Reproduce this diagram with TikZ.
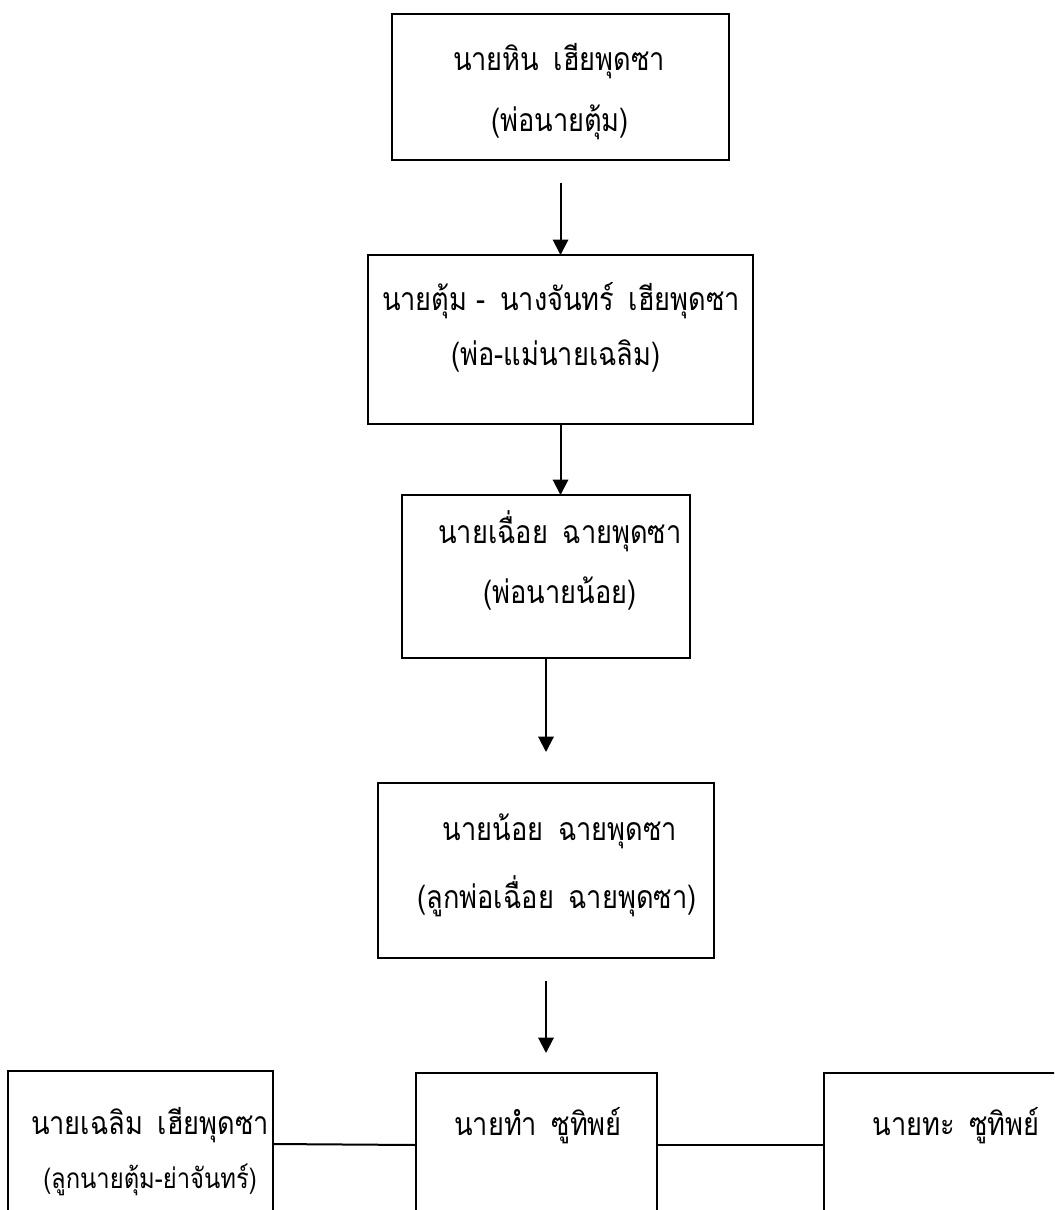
\documentclass[tikz,border=0pt]{standalone}
\usepackage{fontspec}
\newfontfamily\thai[Script=Thai, FakeStretch=0.85]{Loma}
\usetikzlibrary{arrows.meta}
\newcommand\wgap{\hspace{0.45em}}
\begin{document}
\begin{tikzpicture}[x=0.75pt,y=-0.75pt,
  box/.style={draw, line width=1.5pt, inner sep=0pt, outer sep=0pt},
  lbl/.style={anchor=base, inner sep=0pt, font=\thai\fontsize{24}{28}\selectfont},
  small/.style={anchor=base, inner sep=0pt, font=\thai\fontsize{21}{25}\selectfont},
  arr/.style={line width=1.5pt, -{Triangle[length=11.5pt,width=11.5pt]}},
  link/.style={line width=1.5pt}]
\useasboundingbox (0,0) rectangle (1054,1210);
\clip (0,0) rectangle (1054,1210);
\fill[white] (0,0) rectangle (1054,1210);
% boxes
\node[box, minimum width=252.75pt, minimum height=109.5pt] (b1) at (560.5,87) {};
\node[box, minimum width=288.75pt, minimum height=126.75pt] (b2) at (560.5,339.5) {};
\node[box, minimum width=216pt, minimum height=122.25pt] (b3) at (546,576.5) {};
\node[box, minimum width=252pt, minimum height=131.25pt] (b4) at (546,870.5) {};
\node[box, minimum width=198.75pt, minimum height=126.75pt] (left) at (140.5,1155.5) {};
\node[box, minimum width=180.75pt, minimum height=125.25pt] (mid) at (536.5,1156.5) {};
\node[box, minimum width=192pt, minimum height=125.25pt] (right) at (952,1156.5) {};
% texts
\node[lbl] (t1a) at (559,70) {นายหิน\wgap เฮียพุดซา};
\node[lbl] (t1b) at (560,131) {(พ่อนายตุ้ม)};
\node[lbl] (t2a) at (561,310) {นายตุ้ม -\wgap นางจันทร์\wgap เฮียพุดซา};
\node[lbl] (t2b) at (556,365) {(พ่อ-แม่นายเฉลิม)};
\node[lbl] (t3a) at (560,543) {นายเฉื่อย\wgap ฉายพุดซา};
\node[lbl] (t3b) at (560,603) {(พ่อนายน้อย)};
\node[lbl] (t4a) at (560,840) {นายน้อย\wgap ฉายพุดซา};
\node[lbl] (t4b) at (557,908) {(ลูกพ่อเฉื่อย\wgap ฉายพุดซา)};
\node[lbl] (tla) at (150,1134) {นายเฉลิม\wgap เฮียพุดซา};
\node[small] (tlb) at (150,1188) {(ลูกนายตุ้ม-ย่าจันทร์)};
\node[lbl] (tm) at (538,1135) {นายทำ\wgap ซูทิพย์};
\node[lbl] (tr) at (956,1135) {นายทะ\wgap ซูทิพย์};
% arrows
\draw[arr, shorten <=17.25pt] (b1.south) -- (b2.north);
\draw[arr] (b2.south) -- (b2.south |- b3.north);
\draw[arr, shorten >=23.25pt] (b3.south) -- (b4.north);
\draw[arr, shorten <=17.25pt, shorten >=15pt] (b4.south) -- (b4.south |- mid.north);
% links
\draw[link] ([yshift=-54.75pt]left.north east) -- ([yshift=-54pt]mid.north west);
\draw[link] ([yshift=-54pt]mid.north east) -- ([yshift=-54pt]right.north west);
\end{tikzpicture}
\end{document}
